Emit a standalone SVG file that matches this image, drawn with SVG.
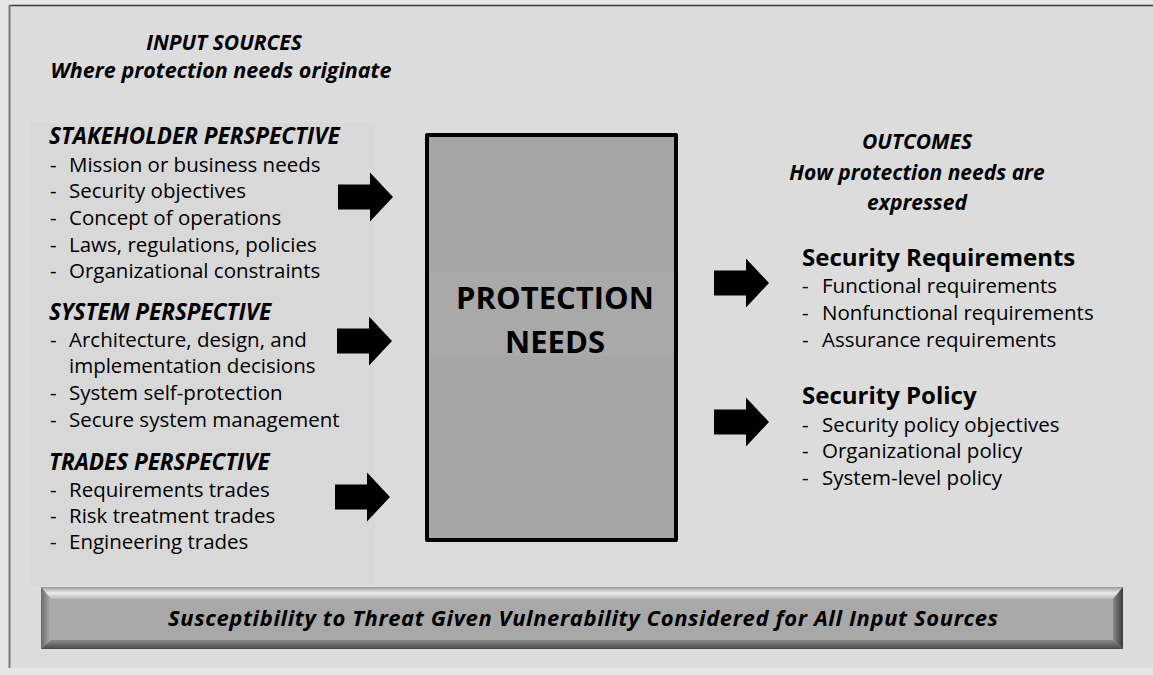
<svg xmlns="http://www.w3.org/2000/svg" width="1153" height="675" viewBox="0 0 1153 675">
<style>
.hdr{font-family:"Open Sans","Liberation Sans",sans-serif;font-weight:bold;font-style:italic;fill:#000}
.item{font-family:"Open Sans","Liberation Sans",sans-serif;font-size:20.5px;fill:#000}
.ttl{font-family:"Open Sans","Liberation Sans",sans-serif;font-weight:bold;fill:#000}
.arrow{fill:#000}
</style>
<defs>
<path id="arr" d="M0,-12.5 H32 V-24.5 L55,0 L32,24.5 V12.5 H0 Z"/>
<linearGradient id="gTop" x1="0" y1="0" x2="0" y2="1">
<stop offset="0" stop-color="#9a9a9a"/><stop offset="0.5" stop-color="#ececec"/><stop offset="1" stop-color="#b8b8b8"/>
</linearGradient>
<linearGradient id="gBot" x1="0" y1="0" x2="0" y2="1">
<stop offset="0" stop-color="#8a8a8a"/><stop offset="1" stop-color="#4a4a4a"/>
</linearGradient>
<linearGradient id="gLeft" x1="0" y1="0" x2="1" y2="0">
<stop offset="0" stop-color="#6a6a6a"/><stop offset="1" stop-color="#b0b0b0"/>
</linearGradient>
<linearGradient id="gRight" x1="0" y1="0" x2="1" y2="0">
<stop offset="0" stop-color="#8a8a8a"/><stop offset="1" stop-color="#3a3a3a"/>
</linearGradient>
</defs>
<rect x="0" y="0" width="1153" height="675" fill="#e6e6e6"/>
<rect x="9" y="5" width="1144" height="663" fill="#dcdcdc"/>
<line x1="9" y1="5.5" x2="1153" y2="5.5" stroke="#3a3a3a" stroke-width="1.5"/>
<line x1="9.5" y1="5" x2="9.5" y2="668" stroke="#7a7a7a" stroke-width="2"/>
<rect x="30" y="123" width="345" height="462" fill="#d8d8d8"/>

<g id="input-sources">
<text class="hdr" x="224" y="50" font-size="21" text-anchor="middle">INPUT SOURCES</text>
<text class="hdr" x="221" y="78" font-size="21.5" text-anchor="middle">Where protection needs originate</text>
</g>

<g id="stakeholder-perspective">
<text class="hdr" x="49" y="144" font-size="22.5">STAKEHOLDER PERSPECTIVE</text>
<text class="item" x="50" y="172">-</text><text class="item" x="69" y="172">Mission or business needs</text>
<text class="item" x="50" y="198">-</text><text class="item" x="69" y="198">Security objectives</text>
<text class="item" x="50" y="225">-</text><text class="item" x="69" y="225">Concept of operations</text>
<text class="item" x="50" y="252">-</text><text class="item" x="69" y="252">Laws, regulations, policies</text>
<text class="item" x="50" y="278">-</text><text class="item" x="69" y="278">Organizational constraints</text>
</g>

<g id="system-perspective">
<text class="hdr" x="49" y="320" font-size="22.5">SYSTEM PERSPECTIVE</text>
<text class="item" x="50" y="347">-</text><text class="item" x="69" y="347">Architecture, design, and</text>
<text class="item" x="69" y="373">implementation decisions</text>
<text class="item" x="50" y="400">-</text><text class="item" x="69" y="400">System self-protection</text>
<text class="item" x="50" y="427">-</text><text class="item" x="69" y="427">Secure system management</text>
</g>

<g id="trades-perspective">
<text class="hdr" x="49" y="470" font-size="22.5">TRADES PERSPECTIVE</text>
<text class="item" x="50" y="497">-</text><text class="item" x="69" y="497">Requirements trades</text>
<text class="item" x="50" y="523">-</text><text class="item" x="69" y="523">Risk treatment trades</text>
<text class="item" x="50" y="549">-</text><text class="item" x="69" y="549">Engineering trades</text>
</g>

<g id="protection-needs">
<rect x="427" y="135" width="249" height="405" fill="#a6a6a6" stroke="#000" stroke-width="4" stroke-linejoin="round"/>
<rect x="429" y="272" width="245" height="84" fill="#a9a9a9"/>
<text class="ttl" x="555" y="309" font-size="31" text-anchor="middle">PROTECTION</text>
<text class="ttl" x="555" y="353" font-size="31" text-anchor="middle">NEEDS</text>
</g>

<g id="outcomes">
<text class="hdr" x="917" y="149" font-size="21" text-anchor="middle">OUTCOMES</text>
<text class="hdr" x="917" y="180" font-size="21" text-anchor="middle">How protection needs are</text>
<text class="hdr" x="917" y="210" font-size="21" text-anchor="middle">expressed</text>
</g>

<g id="security-requirements">
<text class="ttl" x="802" y="266" font-size="24">Security Requirements</text>
<text class="item" x="802" y="293">-</text><text class="item" x="822" y="293">Functional requirements</text>
<text class="item" x="802" y="320">-</text><text class="item" x="822" y="320">Nonfunctional requirements</text>
<text class="item" x="802" y="347">-</text><text class="item" x="822" y="347">Assurance requirements</text>
</g>

<g id="security-policy">
<text class="ttl" x="802" y="404" font-size="24">Security Policy</text>
<text class="item" x="802" y="432">-</text><text class="item" x="822" y="432">Security policy objectives</text>
<text class="item" x="802" y="458">-</text><text class="item" x="822" y="458">Organizational policy</text>
<text class="item" x="802" y="485">-</text><text class="item" x="822" y="485">System-level policy</text>
</g>

<g id="threat-bar">
<rect x="41" y="587" width="1082" height="62" fill="#a8a8a8"/>
<polygon points="41,587 1123,587 1113,599 51,599" fill="url(#gTop)"/>
<polygon points="41,649 1123,649 1113,640 51,640" fill="url(#gBot)"/>
<polygon points="41,587 51,599 51,640 41,649" fill="url(#gLeft)"/>
<polygon points="1123,587 1113,599 1113,640 1123,649" fill="url(#gRight)"/>
<text class="hdr" x="583" y="626" font-size="22" text-anchor="middle" textLength="830">Susceptibility to Threat Given Vulnerability Considered for All Input Sources</text>
</g>

<g id="connectors">
<use href="#arr" class="arrow" transform="translate(338,197)"/>
<use href="#arr" class="arrow" transform="translate(337,341)"/>
<use href="#arr" class="arrow" transform="translate(335,497)"/>
<use href="#arr" class="arrow" transform="translate(714,283)"/>
<use href="#arr" class="arrow" transform="translate(714,422)"/>
</g>
</svg>
